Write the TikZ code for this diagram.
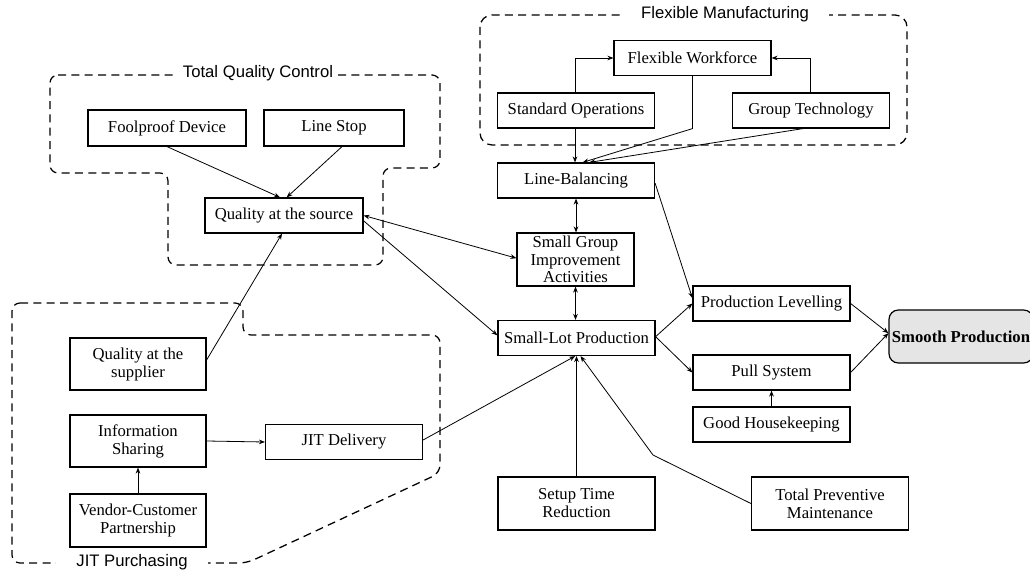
\documentclass[tikz,border=0pt]{standalone}
\usepackage{fontspec}
\setmainfont{Liberation Serif}
\newfontfamily\grpfont{Liberation Sans}
\usetikzlibrary{arrows.meta, positioning}

\begin{document}
\begin{tikzpicture}[x=0.75pt, y=-0.75pt,
    blok/.style={draw, line width=0.9pt, fill=white, align=center, inner sep=1pt,
        minimum width=117.75pt, minimum height=26.25pt,
        font=\fontsize{12.5}{13.5}\selectfont},
    arr/.style={-{Stealth[length=4.5pt, width=3.5pt]}, line width=0.6pt},
    dbl/.style={{Stealth[length=4.5pt, width=3.5pt]}-{Stealth[length=4.5pt, width=3.5pt]}, line width=0.6pt},
    grp/.style={draw=black, dash pattern=on 6pt off 4pt, line width=0.95pt, rounded corners=6pt},
    grplbl/.style={fill=white, inner ysep=1pt, font=\grpfont\fontsize{12.5}{14}\selectfont}]
        \useasboundingbox (0,0) rectangle (1030,573);
        \clip (0,0) rectangle (1030,573);

        % dashed groups
        \draw[grp] (50,75) -- (440,75) -- (440,168) -- (383,168) -- (383,265)
            -- (168,265) -- (168,173) -- (50,173) -- cycle;
        \draw[grp, rounded corners=9pt] (480,15) rectangle (907,145);
        \draw[grp] (12,303) -- (243,303) -- (243,335) -- (440,335) -- (440,473)
            -- (247,563) -- (12,563) -- cycle;
        \node[grplbl, inner xsep=4pt] (tqclbl) at (258,73) {Total Quality Control};
        \node[grplbl, inner xsep=15pt] (fmlbl) at (725,14) {Flexible Manufacturing};
        \node[grplbl, inner xsep=15pt] (jitlbl) at (132,562) {JIT Purchasing};

        % boxes
        \node[blok, minimum width=118.5pt, minimum height=27pt] (fool) at (167,128) {Foolproof Device};
        \node[blok, minimum width=105pt, minimum height=27pt] (stop) at (334,128) {Line Stop};
        \node[blok, minimum width=118.5pt] (qsrc) at (284,215.5) {Quality at the source};
        \node[blok, minimum width=102pt, minimum height=39pt] (qsup) at (138,364) {Quality at the\\supplier};
        \node[blok, minimum width=102pt, minimum height=39pt] (info) at (138,441) {Information\\Sharing};
        \node[blok, minimum width=102pt, minimum height=39.75pt] (vcp) at (138,520.5) {Vendor-Customer\\Partnership};
        \node[blok] (jitd) at (344,442) {JIT Delivery};

        \node[blok] (fw) at (692.5,58) {Flexible Workforce};
        \node[blok] (std) at (576,110.5) {Standard Operations};
        \node[blok] (gt) at (811,110.5) {Group Technology};
        \node[blok] (lb) at (576,180.5) {Line-Balancing};
        \node[blok, minimum width=87.75pt, minimum height=39.75pt, inner sep=0pt,
            font=\fontsize{12.5}{13}\selectfont] (sgia) at (575.5,259.5) {Small Group\\Improvement\\Activities};
        \node[blok] (slp) at (576.5,338) {Small-Lot Production};
        \node[blok] (pl) at (771.5,303.5) {Production Levelling};
        \node[blok] (ps) at (771.5,372.5) {Pull System};
        \node[blok] (gh) at (771.5,424.5) {Good Housekeeping};
        \node[blok, minimum height=39.75pt] (str) at (576.5,503.5) {Setup Time\\Reduction};
        \node[blok, minimum height=39.75pt] (tpm) at (830,503.5) {Total Preventive\\Maintenance};
        \node[blok, rounded corners=7pt, fill=gray!20, minimum width=108pt, minimum height=39.75pt,
            font=\bfseries\fontsize{12.5}{13.5}\selectfont] (sp) at (961,336.5) {Smooth Production};
        \coordinate (bend) at (653,455);

        % connectors
        \draw[arr] (fool.south) -- ([xshift=-3pt]qsrc.north);
        \draw[arr] ([xshift=6pt]stop.south) -- ([xshift=2pt]qsrc.north);
        \draw[arr] ([yshift=3pt]qsup.east) -- ([xshift=-1.5pt]qsrc.south);
        \draw[dbl] (qsrc.east) -- ([yshift=1pt]sgia.west);
        \draw[arr] ([yshift=-4pt]qsrc.east) -- ([yshift=2pt]slp.west);
        \draw[arr] (info.east) -- (jitd.west);
        \draw[arr] (vcp.north) -- (info.south);
        \draw[arr] ([yshift=1.5pt]jitd.east) -- ([xshift=-1pt]slp.south);
        \draw[arr] (str.north) -- (slp.south);
        \draw[arr] (tpm.west) -- (bend) -- ([xshift=3pt]slp.south);

        \draw[arr] ([xshift=-0.75pt]std.north) |- (fw.west);
        \draw[arr] ([xshift=-0.75pt]gt.north) |- (fw.east);
        \draw[arr] (fw.south) -- (fw.south |- gt.south) -- ([xshift=5pt]lb.north);
        \draw[arr] ([xshift=-6pt]gt.south) -- ([xshift=10pt]lb.north);
        \draw[arr] ([xshift=-0.75pt]std.south) -- ([xshift=-0.75pt]lb.north);
        \draw[dbl] (lb.south) -- (lb.south |- sgia.north);
        \draw[dbl] (sgia.south) -- (sgia.south |- slp.north);

        \draw[arr] ([yshift=-2pt]lb.east) -- ([yshift=4pt]pl.west);
        \draw[arr] ([yshift=1pt]slp.east) -- (pl.west);
        \draw[arr] ([yshift=1pt]slp.east) -- (ps.west);
        \draw[arr] (pl.east) -- ([yshift=2.5pt]sp.west);
        \draw[arr] (ps.east) -- ([yshift=2.5pt]sp.west);
        \draw[arr] (gh.north) -- (ps.south);
    \end{tikzpicture}
\end{document}
